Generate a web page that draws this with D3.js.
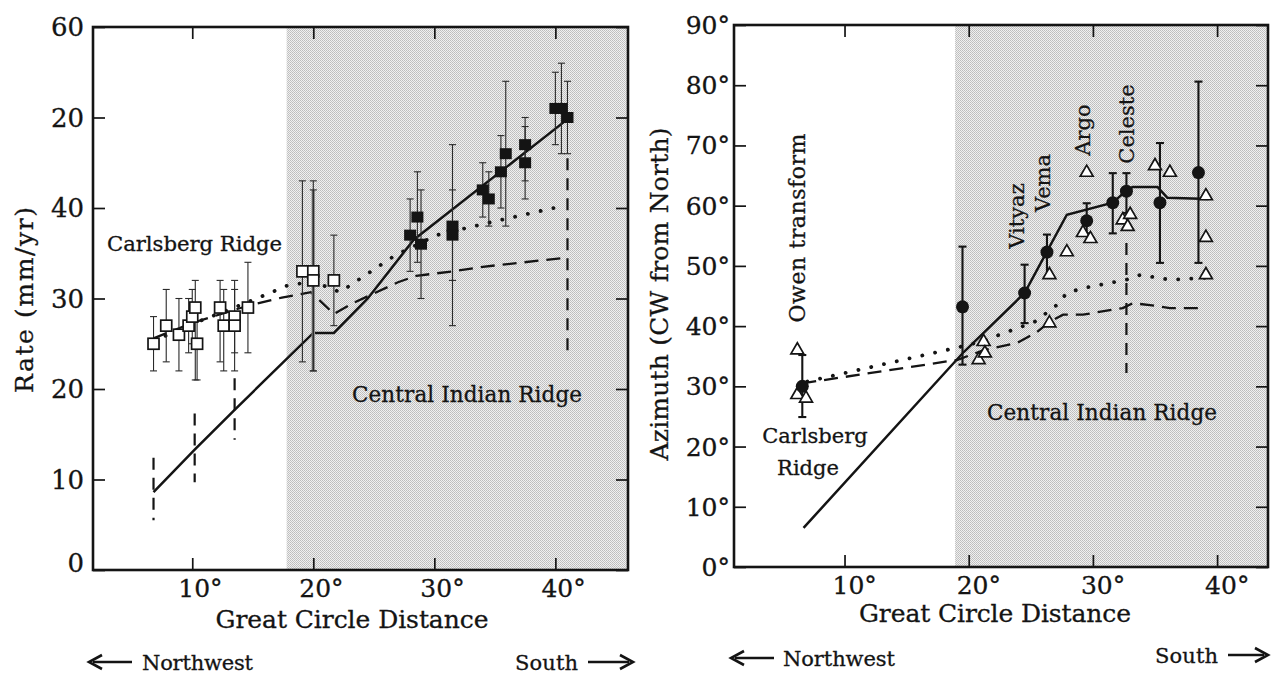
<!DOCTYPE html>
<html>
<head>
<meta charset="utf-8">
<script src="https://cdn.jsdelivr.net/npm/d3@7"></script>
<style>
  body { margin: 0; background: #fff; }
  text { font-family: "DejaVu Serif", serif; fill: #141414; stroke: #141414; stroke-width: 0.3; }
</style>
</head>
<body>
<svg id="chart" width="1278" height="674"></svg>
<script>
// ---- data: left panel (spreading rate) ----
const distTicks = [10, 20, 30, 40]
const rateTicks = [0, 10, 20, 30, 40, 50, 60]
const rateTickLabels = ["0", "10", "20", "30", "40", "20", "60"]
const rateShadeFrom = 17.8

// Carlsberg Ridge rates (open squares): distance, rate, upper, lower
const rateCarlsberg = [
  [6.8, 25, 28, 22], [7.85, 27, 31, 23], [8.9, 26, 30, 22], [9.7, 27, 30, 24],
  [10.0, 28, 31, 25], [10.25, 29, 32, 21], [10.4, 25, 29, 21], [12.3, 29, 32, 23],
  [12.6, 27, 31, 22], [13.5, 28, 32, 22], [13.5, 27, 31, 24], [14.6, 29, 34, 24],
  [19.1, 33, 43, 23], [20.0, 33, 43, 22], [20.0, 32, 42, 22], [21.7, 32, 37, 27]
]
// Central Indian Ridge rates (filled squares)
const rateCentral = [
  [28.0, 37, 41, 33], [28.6, 39, 44, 34], [28.9, 36, 42, 30], [31.5, 38, 47, 27],
  [31.5, 37, 42, 32], [34.0, 42, 45, 39], [34.5, 41, 44, 38], [35.5, 44, 48, 40],
  [35.9, 46, 54, 38], [37.5, 47, 50, 43], [37.5, 45, 49, 41], [40.0, 51, 55, 47],
  [40.5, 51, 56, 46], [41.0, 50, 54, 46]
]
const rateSolid = [[6.8, 8.6], [10.2, 13.3], [13.5, 17.7], [20, 26.2], [21.7, 26.2], [24.5, 30], [28.3, 36.5], [40.8, 49.6]]
const rateSolidErr = [[6.8, 12.4, 5.5], [10.2, 17.3, 9.7], [13.5, 21.2, 14.4], [41.0, 45.5, 23.5]]
const rateGrayBar = [[20.0, 42, 22]]
const rateDotted = [[6.8, 25.3], [10, 27.2], [14.6, 29.6], [17.8, 31.4], [20, 31.9], [21.1, 31.3], [22.2, 30.7], [26.8, 34.8], [30.2, 37], [34.9, 38.5], [40.2, 40.1]]
const rateDashed = [[6.8, 25.6], [10, 27.3], [14.6, 29.2], [17.4, 30.1], [19.8, 30.7], [21.7, 28.3], [23.3, 29.5], [27, 31.8], [28.5, 32.5], [31.5, 33], [34, 33.5], [40.8, 34.5]]

// ---- data: right panel (azimuth) ----
const azTicks = [0, 10, 20, 30, 40, 50, 60, 70, 80, 90]
const azShadeFrom = 18.9
const azObserved = [
  [6.6, 30, 35.2, 24.9], [19.5, 43.2, 53.2, 33.6], [24.5, 45.5, 50.2, 40.5],
  [26.3, 52.3, 55.2, 48], [29.5, 57.5, 60.4, 55.4], [31.6, 60.5, 65.4, 55.4],
  [32.7, 62.4, 65.4, 58.8], [35.4, 60.5, 70.4, 50.5], [38.5, 65.5, 80.6, 50.5]
]
const azTransform = [
  [6.2, 36], [6.2, 28.6], [6.9, 28], [20.8, 34.4], [21.2, 37.4], [21.3, 35.5],
  [26.5, 48.5], [26.5, 40.5], [27.9, 52.3], [29.5, 65.5], [29.2, 55.5], [29.8, 54.5],
  [32.4, 57.6], [33, 58.5], [32.8, 56.5], [35, 66.6], [36.2, 65.5],
  [39.1, 61.6], [39.1, 54.7], [39.1, 48.5]
]
const azSolid = [[6.7, 6.5], [19.6, 35.7], [24.5, 45.5], [27.9, 58.5], [31.6, 60.5], [32.7, 62.5], [33.2, 63.1], [35.2, 63.1], [36, 61.3], [39.3, 61.1]]
const azSolidErr = [[32.7, 53.8, 32.2]]
const azDotted = [[7, 30.8], [19, 36.4], [21, 37.4], [22.9, 38.9], [25.3, 40.7], [27.1, 43.5], [27.9, 45.5], [29.2, 46.3], [32.7, 47.7], [33.8, 48.5], [36.2, 47.7], [39, 48]]
const azDashed = [[6.6, 30.5], [19.1, 34.4], [21.2, 36], [23.9, 37.2], [25.5, 39], [26.5, 40.7], [27.6, 41.9], [29.2, 41.9], [32.4, 43], [33.2, 43.8], [34.6, 43.5], [36.2, 43], [38.9, 43]]

// ---- setup ----
const svg = d3.select("#chart")
const ink = "#141414"

// stippled shading like the print screen
const pat = svg.append("defs").append("pattern")
  .attr("id", "stipple").attr("width", 2).attr("height", 2)
  .attr("patternUnits", "userSpaceOnUse")
pat.append("rect").attr("width", 2).attr("height", 2).attr("fill", "#f0f0f0")
pat.append("rect").attr("width", 1).attr("height", 1).attr("fill", "#bcbcbc")
pat.append("rect").attr("x", 1).attr("y", 1).attr("width", 1).attr("height", 1).attr("fill", "#c4c4c4")

const xL = d3.scaleLinear().domain([1.8, 46]).range([93, 628])
const yL = d3.scaleLinear().domain([0, 60]).range([570, 27])
const xR = d3.scaleLinear().domain([1.1, 44.1]).range([734, 1268])
const yR = d3.scaleLinear().domain([0, 90]).range([567, 25])

function shade(g, x, y, shadeFrom) {
  const [, x1] = x.range(), [y0, y1] = y.range()
  g.append("rect")
    .attr("x", x(shadeFrom)).attr("y", y1)
    .attr("width", x1 - x(shadeFrom)).attr("height", y0 - y1)
    .attr("fill", "url(#stipple)")
}

function box(g, x, y, xt, yt) {
  const [x0, x1] = x.range(), [y0, y1] = y.range()
  const tl = 12
  // inward ticks on all four sides
  g.append("g").attr("transform", `translate(0,${y0})`)
    .call(d3.axisTop(x).tickValues(xt).tickSize(tl).tickFormat(""))
  g.append("g").attr("transform", `translate(0,${y1})`)
    .call(d3.axisBottom(x).tickValues(xt).tickSize(tl).tickFormat(""))
  g.append("g").attr("transform", `translate(${x0},0)`)
    .call(d3.axisRight(y).tickValues(yt).tickSize(tl).tickFormat(""))
  g.append("g").attr("transform", `translate(${x1},0)`)
    .call(d3.axisLeft(y).tickValues(yt).tickSize(tl).tickFormat(""))
  g.selectAll(".domain").remove()
  g.selectAll(".tick line").attr("stroke", ink).attr("stroke-width", 1.7)
  g.append("rect")
    .attr("x", x0).attr("y", y1).attr("width", x1 - x0).attr("height", y0 - y1)
    .attr("fill", "none").attr("stroke", ink).attr("stroke-width", 2.6)
}

function line(g, x, y, data, style) {
  g.append("path").datum(data)
    .attr("d", d3.line().x(d => x(d[0])).y(d => y(d[1])))
    .attr("fill", "none").attr("stroke", ink)
    .attr("stroke-width", style.w)
    .attr("stroke-dasharray", style.dash || null)
    .attr("stroke-linecap", style.cap || "butt")
}

function errBars(g, x, y, data, hiIdx, loIdx, style) {
  const s = g.append("g").attr("stroke", style.color || ink).attr("stroke-width", style.w)
  data.forEach(d => {
    s.append("line").attr("x1", x(d[0])).attr("x2", x(d[0]))
      .attr("y1", y(d[hiIdx])).attr("y2", y(d[loIdx]))
      .attr("stroke-dasharray", style.dash || null)
    if (style.cap) {
      [d[hiIdx], d[loIdx]].forEach(v => {
        s.append("line").attr("x1", x(d[0]) - style.cap).attr("x2", x(d[0]) + style.cap)
          .attr("y1", y(v)).attr("y2", y(v))
      })
    }
  })
}

function label(g, txt, x, y, size, opts = {}) {
  const t = g.append("text").attr("font-size", size).text(txt)
  if (opts.rotate) t.attr("transform", `translate(${x},${y}) rotate(-90)`)
  else t.attr("x", x).attr("y", y)
  t.attr("text-anchor", opts.anchor || "start")
  if (opts.len) t.attr("textLength", opts.len).attr("lengthAdjust", "spacing")
  return t
}

// ---- left panel ----
const gl = svg.append("g")
shade(gl, xL, yL, rateShadeFrom)
line(gl, xL, yL, rateDashed, { w: 2.3, dash: "14 8" })
line(gl, xL, yL, rateDotted, { w: 3.8, dash: "0.1 13", cap: "round" })
line(gl, xL, yL, rateSolid, { w: 2.5 })
errBars(gl, xL, yL, rateGrayBar, 1, 2, { w: 3.5, color: "#8c8c8c" })
errBars(gl, xL, yL, rateCarlsberg, 2, 3, { w: 1.1, cap: 3.5, color: "#2a2a2a" })
errBars(gl, xL, yL, rateCentral, 2, 3, { w: 1.1, cap: 3.5, color: "#2a2a2a" })
errBars(gl, xL, yL, rateSolidErr, 1, 2, { w: 2.2, dash: "12 8" })
gl.append("g").selectAll("rect").data(rateCarlsberg).join("rect")
  .attr("x", d => xL(d[0]) - 5.5).attr("y", d => yL(d[1]) - 5.5)
  .attr("width", 11).attr("height", 11)
  .attr("fill", "#fff").attr("stroke", ink).attr("stroke-width", 1.7)
gl.append("g").selectAll("rect").data(rateCentral).join("rect")
  .attr("x", d => xL(d[0]) - 6).attr("y", d => yL(d[1]) - 5.5)
  .attr("width", 12).attr("height", 11).attr("fill", ink)
box(gl, xL, yL, distTicks, rateTicks)

gl.selectAll(".ylab").data(rateTicks).join("text")
  .attr("x", 84).attr("y", d => yL(d) + 9 - (d === 0 ? 7 : 0))
  .attr("text-anchor", "end").attr("font-size", 26)
  .text((d, i) => rateTickLabels[i])
gl.selectAll(".xlab").data(distTicks).join("text")
  .attr("x", d => xL(d) - 14).attr("y", 597)
  .attr("font-size", 25).text(d => d + "°")
label(gl, "Great Circle Distance", 352, 628, 25, { anchor: "middle", len: 273 })
label(gl, "Rate (mm/yr)", 33, 300, 25, { anchor: "middle", rotate: true, len: 186 })
label(gl, "Carlsberg Ridge", 107, 251, 21.2, { len: 175 })
label(gl, "Central Indian Ridge", 352, 402, 21.5, { len: 230 })

// ---- right panel ----
const gr = svg.append("g")
shade(gr, xR, yR, azShadeFrom)
line(gr, xR, yR, azDashed, { w: 2.3, dash: "14 8" })
line(gr, xR, yR, azDotted, { w: 3.8, dash: "0.1 13", cap: "round" })
line(gr, xR, yR, azSolid, { w: 2.5 })
errBars(gr, xR, yR, azObserved, 2, 3, { w: 2.1, cap: 4 })
errBars(gr, xR, yR, azSolidErr, 1, 2, { w: 2.2, dash: "12 8" })
const tri = d3.symbol(d3.symbolTriangle, 72)
gr.append("g").selectAll("path").data(azTransform).join("path")
  .attr("transform", d => `translate(${xR(d[0])},${yR(d[1])})`)
  .attr("d", tri).attr("fill", "#fff").attr("stroke", ink).attr("stroke-width", 1.7)
gr.append("g").selectAll("circle").data(azObserved).join("circle")
  .attr("cx", d => xR(d[0])).attr("cy", d => yR(d[1])).attr("r", 6.5).attr("fill", ink)
box(gr, xR, yR, distTicks, azTicks)

gr.selectAll(".ylab").data(azTicks).join("text")
  .attr("x", 730).attr("y", d => yR(d) + 9)
  .attr("text-anchor", "end").attr("font-size", 25).text(d => d + "°")
gr.selectAll(".xlab").data(distTicks).join("text")
  .attr("x", d => xR(d) - 12).attr("y", 594)
  .attr("font-size", 25).text(d => d + "°")
label(gr, "Great Circle Distance", 995, 622, 25, { anchor: "middle", len: 272 })
label(gr, "Azimuth (CW from North)", 668, 294, 25, { anchor: "middle", rotate: true, len: 333 })
label(gr, "Owen transform", 805, 228, 22, { anchor: "middle", rotate: true, len: 189 })
label(gr, "Carlsberg", 815, 443, 21, { anchor: "middle" })
label(gr, "Ridge", 808, 475, 21, { anchor: "middle" })
;[["Vityaz", 1024, 216], ["Vema", 1050, 183], ["Argo", 1090, 130], ["Celeste", 1134, 124]].forEach(([t, x, y]) => {
  label(gr, t, x, y, 21, { anchor: "middle", rotate: true })
})
label(gr, "Central Indian Ridge", 1102, 420, 21.5, { anchor: "middle", len: 230 })

// ---- direction arrows ----
function arrow(x1, x2, y) {
  const dir = Math.sign(x2 - x1)
  svg.append("line").attr("x1", x1).attr("x2", x2 - dir * 4).attr("y1", y).attr("y2", y)
    .attr("stroke", ink).attr("stroke-width", 2.6)
  svg.append("path")
    .attr("d", `M${x2 - dir * 13},${y - 7} L${x2},${y} L${x2 - dir * 13},${y + 7}`)
    .attr("fill", "none").attr("stroke", ink).attr("stroke-width", 2.6)
}
arrow(132, 89, 662)
label(svg, "Northwest", 142, 670, 21, { len: 111 })
label(svg, "South", 515, 670, 21, { len: 63 })
arrow(588, 633, 662)
arrow(774, 731, 658)
label(svg, "Northwest", 783, 666, 21, { len: 112 })
label(svg, "South", 1155, 663, 21, { len: 63 })
arrow(1228, 1268, 655)
</script>
</body>
</html>
